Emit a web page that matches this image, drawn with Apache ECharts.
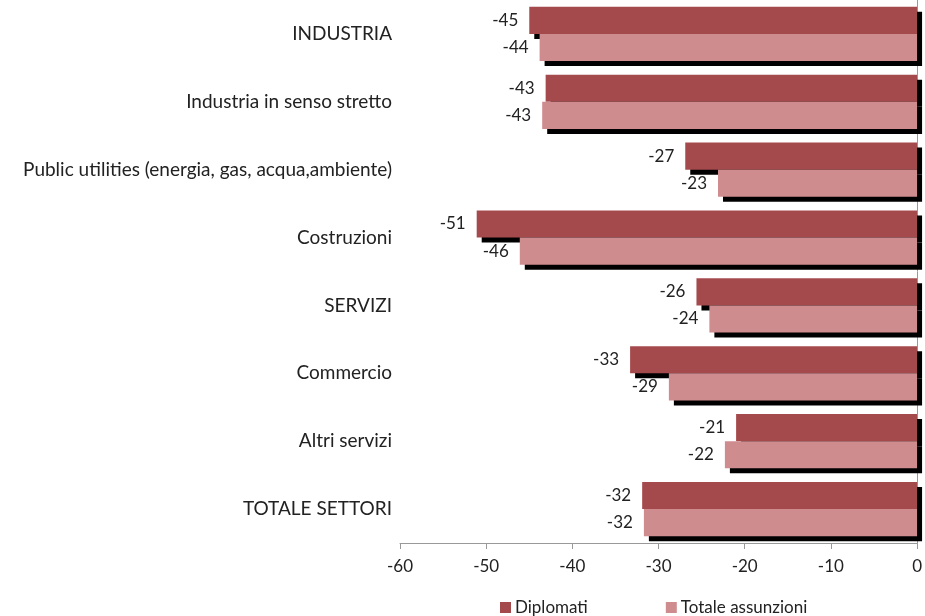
<!DOCTYPE html>
<html>
<head>
<meta charset="utf-8">
<script src="https://cdn.jsdelivr.net/npm/echarts@6/dist/echarts.min.js"></script>
<style>html,body{margin:0;padding:0;background:#fff}#c{width:925px;height:616px}</style>
</head>
<body>
<div id="c"></div>
<script>
const categories = ["INDUSTRIA","Industria in senso stretto","Public utilities (energia, gas, acqua,ambiente)","Costruzioni","SERVIZI","Commercio","Altri servizi","TOTALE SETTORI"];
const diplomati = [-45.0,-43.1,-26.9,-51.1,-25.6,-33.3,-21.0,-31.9];
const totale = [-43.8,-43.5,-23.1,-46.1,-24.1,-28.8,-22.3,-31.7];
const xTicks = [-60,-50,-40,-30,-20,-10,0];
const FONT = 'Lato, "Open Sans", sans-serif';
const chart = echarts.init(document.getElementById('c'));
function barSeries(name, data, color){
  return {
    name: name, type: 'bar', data: data, barGap: '0%', barCategoryGap: '20%',
    itemStyle: {color: color, borderWidth: 0,
      shadowColor: '#000', shadowBlur: 0, shadowOffsetX: 5, shadowOffsetY: 5},
    label: {show: true, position: 'left', distance: 11, color: '#222', fontFamily: FONT, fontSize: 17,
      formatter: p => String(Math.round(p.value))},
    emphasis: {disabled: true}, animation: false
  };
}
chart.setOption({
  animation: false,
  textStyle: {fontFamily: FONT},
  grid: {left: 400, right: 4, top: 0, bottom: 73},
  legend: {top: 594, left: 495, itemWidth: 11, itemHeight: 11, itemGap: 78, icon: 'rect',
    textStyle: {fontFamily: FONT, fontSize: 17, color: '#222', padding: [0,0,0,-1]},
    data: ['Diplomati','Totale assunzioni']},
  xAxis: {type: 'value', min: xTicks[0], max: xTicks[xTicks.length-1], interval: 10,
    splitLine: {show: false},
    axisLine: {show: true, onZero: false, lineStyle: {color: '#999'}},
    axisTick: {show: true, length: 6, lineStyle: {color: '#999'}},
    axisLabel: {color: '#222', fontSize: 17, fontFamily: FONT, margin: 15}},
  yAxis: [
    {type: 'category', data: categories, inverse: true, position: 'left',
     axisLine: {show: false}, axisTick: {show: false},
     axisLabel: {color: '#222', fontSize: 19, fontFamily: FONT, margin: 8}},
    {type: 'category', data: categories, inverse: true, position: 'right',
     axisLine: {show: true, lineStyle: {color: '#999'}}, axisTick: {show: false}, axisLabel: {show: false}}
  ],
  series: [barSeries('Diplomati', diplomati, '#a54a4c'), barSeries('Totale assunzioni', totale, '#cf8c8f')]
});
</script>
</body>
</html>
